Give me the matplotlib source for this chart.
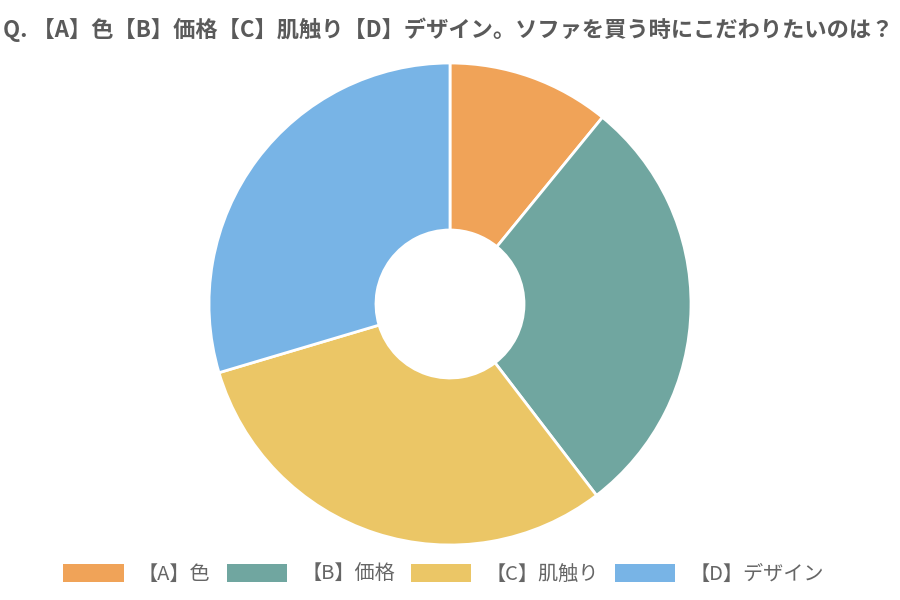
import matplotlib
matplotlib.use("Agg")
import matplotlib.pyplot as plt
from matplotlib.patches import Patch

plt.rcParams['font.family'] = ['Noto Sans CJK JP', 'DejaVu Sans']

title = "Q. 【A】色【B】価格【C】肌触り【D】デザイン。ソファを買う時にこだわりたいのは？"
categories = ["【A】色", "【B】価格", "【C】肌触り", "【D】デザイン"]
values = [10.9, 28.7, 30.8, 29.6]
colors = ["#F0A358", "#70A6A0", "#EBC666", "#78B4E6"]

fig = plt.figure(figsize=(9, 6), dpi=100)
R = 241
cx, cy = 450, 304
ax = fig.add_axes([(cx - R) / 900, (600 - cy - R) / 600, 2 * R / 900, 2 * R / 600])
ax.pie(values, colors=colors, startangle=90, counterclock=False, radius=1,
       wedgeprops=dict(width=(R - 74) / R, edgecolor="white", linewidth=2))
ax.set_xlim(-1, 1)
ax.set_ylim(-1, 1)
ax.set_aspect("equal")
ax.axis("off")

fig.text(3 / 900, 1 - 30 / 600, title, fontsize=16, fontweight="bold",
         color="#5a5a5a", ha="left", va="center")

handles = [Patch(facecolor=c, edgecolor="none") for c in colors]
fig.legend(handles, categories, loc="center", bbox_to_anchor=(0.493, 1 - 574 / 600),
           ncol=4, frameon=False, fontsize=14.5, labelcolor="#666666",
           handlelength=3.0, handleheight=1.0, handletextpad=0.7, columnspacing=0.8)

fig.savefig("out.png", dpi=100)
